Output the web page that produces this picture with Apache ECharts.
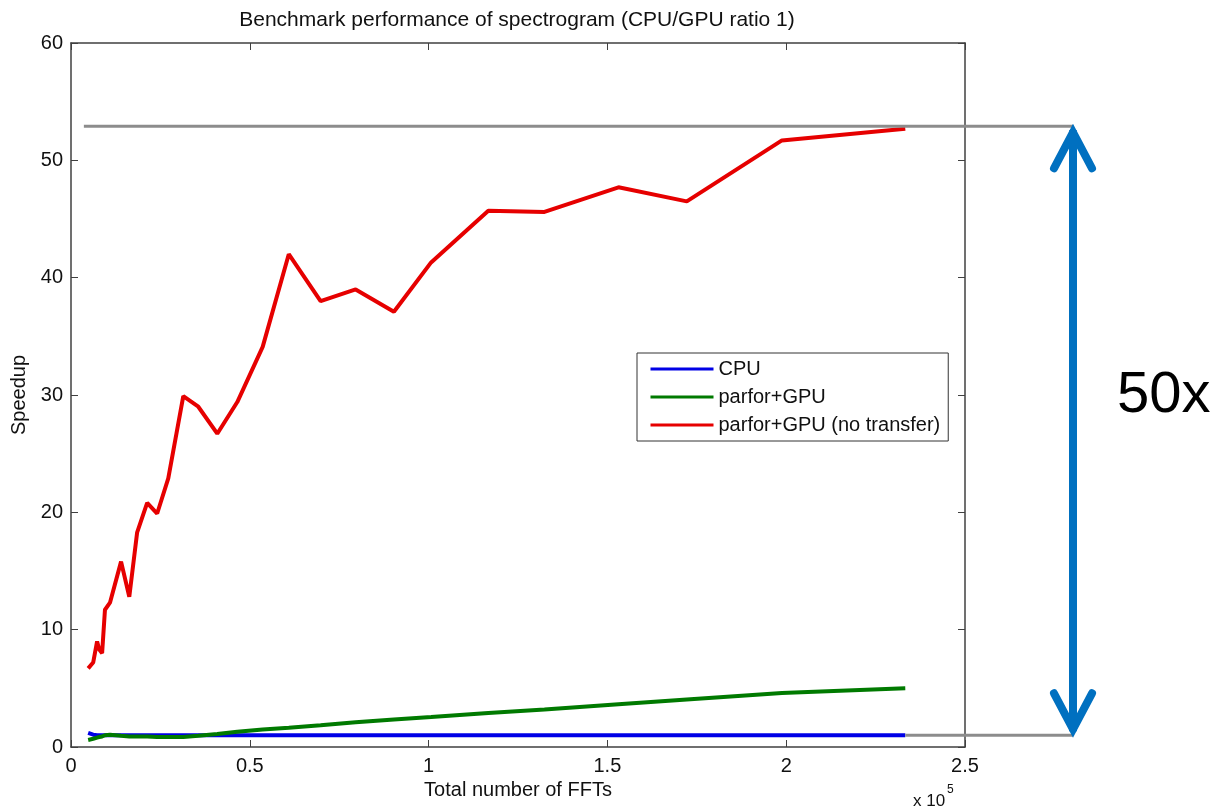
<!DOCTYPE html>
<html>
<head>
<meta charset="utf-8">
<script src="https://cdn.jsdelivr.net/npm/echarts@6/dist/echarts.min.js"></script>
<style>
  html, body { margin: 0; padding: 0; background: #fff; }
  #chart { width: 1217px; height: 809px; }
</style>
</head>
<body>
<div id="chart"></div>
<script>
// number of FFTs (x axis)
var fftCounts = [4800, 6200, 7300, 7900, 8700, 9500, 10900, 14000, 16300, 18500, 21300, 24100,
  27200, 31400, 35600, 40900, 46500, 53600, 60900, 69800, 79600, 90300, 100700, 116700,
  132400, 153100, 172200, 198800, 233300];
// speedup of each variant
var cpuSpeedup = [1.2, 1.05, 1.0, 1.0, 1.0, 1.0, 1.0, 1.0, 1.0, 1.0, 1.0, 1.0,
  1.0, 1.0, 1.0, 1.0, 1.0, 1.0, 1.0, 1.0, 1.0, 1.0, 1.0, 1.0,
  1.0, 1.0, 1.0, 1.0, 1.0];
var gpuSpeedup = [0.6, 0.7, 0.8, 0.85, 0.9, 1.0, 1.05, 0.95, 0.9, 0.9, 0.9, 0.85,
  0.85, 0.85, 0.95, 1.1, 1.3, 1.5, 1.65, 1.85, 2.1, 2.35, 2.55, 2.9,
  3.2, 3.65, 4.05, 4.6, 5.0];
var gpuNoTransferSpeedup = [6.7, 7.2, 9.0, 8.3, 8.0, 11.7, 12.3, 15.8, 12.8, 18.3, 20.8, 19.9,
  22.9, 29.9, 29.0, 26.7, 29.4, 34.1, 42.0, 38.0, 39.0, 37.1, 41.3, 45.7,
  45.6, 47.7, 46.5, 51.7, 52.7];
var seriesNames = ['CPU', 'parfor+GPU', 'parfor+GPU (no transfer)'];
// annotation: speedup gap marked on the right
var gapTop = 52.9;
var gapBottom = 1.0;
var gapLabel = '50x';

var FONT = '"Liberation Sans", Arial, sans-serif';
var axisColor = '#404040';

function pairs(values) {
  return fftCounts.map(function (x, i) { return [x, values[i]]; });
}

var myChart = echarts.init(document.getElementById('chart'));

var option = {
  animation: false,
  backgroundColor: '#fff',
  textStyle: { fontFamily: FONT },
  title: {
    text: 'Benchmark performance of spectrogram (CPU/GPU ratio 1)',
    left: 517,
    textAlign: 'center',
    top: 10,
    padding: 0,
    textStyle: { fontSize: 21, fontWeight: 'normal', color: '#111', fontFamily: FONT }
  },
  grid: { left: 71, right: 252, top: 43, bottom: 62, containLabel: false },
  legend: {
    orient: 'vertical',
    left: 637,
    top: 353,
    data: seriesNames,
    backgroundColor: '#fff',
    borderColor: '#333',
    borderWidth: 1,
    borderRadius: 0,
    padding: [6, 8, 6, 12],
    itemWidth: 63,
    itemHeight: 20,
    itemGap: 8,
    itemStyle: { opacity: 0 },
    lineStyle: { width: 3 },
    textStyle: { fontSize: 20, lineHeight: 20, color: '#111', fontFamily: FONT }
  },
  xAxis: [
    {
      type: 'value',
      min: 0,
      max: 250000,
      interval: 50000,
      name: 'Total number of FFTs',
      nameLocation: 'middle',
      nameGap: 32,
      nameTextStyle: { fontSize: 20, color: '#111', fontFamily: FONT },
      axisLine: { lineStyle: { color: axisColor, width: 1.5 } },
      axisTick: { inside: true, length: 7, lineStyle: { color: axisColor } },
      axisLabel: {
        margin: 9, fontSize: 20, color: '#111', fontFamily: FONT,
        formatter: function (v) { return String(v / 100000); }
      },
      splitLine: { show: false }
    },
    {
      type: 'value',
      position: 'top',
      min: 0,
      max: 250000,
      interval: 50000,
      axisLine: { show: true, onZero: false, lineStyle: { color: axisColor, width: 1.5 } },
      axisTick: { inside: true, length: 7, lineStyle: { color: axisColor } },
      axisLabel: { show: false },
      splitLine: { show: false }
    }
  ],
  yAxis: [
    {
      type: 'value',
      min: 0,
      max: 60,
      interval: 10,
      name: 'Speedup',
      nameLocation: 'middle',
      nameGap: 39,
      nameRotate: 90,
      nameTextStyle: { fontSize: 20, color: '#111', fontFamily: FONT },
      axisLine: { show: true, lineStyle: { color: axisColor, width: 1.5 } },
      axisTick: { show: true, inside: true, length: 7, lineStyle: { color: axisColor } },
      axisLabel: { margin: 8, fontSize: 20, color: '#111', fontFamily: FONT },
      splitLine: { show: false }
    },
    {
      type: 'value',
      position: 'right',
      min: 0,
      max: 60,
      interval: 10,
      axisLine: { show: true, onZero: false, lineStyle: { color: axisColor, width: 1.5 } },
      axisTick: { show: true, inside: true, length: 7, lineStyle: { color: axisColor } },
      axisLabel: { show: false },
      splitLine: { show: false }
    }
  ],
  series: [
    {
      name: seriesNames[0], type: 'line', data: pairs(cpuSpeedup),
      symbol: 'none', color: '#0000e6', lineStyle: { width: 4, color: '#0000e6' }
    },
    {
      name: seriesNames[1], type: 'line', data: pairs(gpuSpeedup),
      symbol: 'none', color: '#007a00', lineStyle: { width: 4, color: '#007a00' }
    },
    {
      name: seriesNames[2], type: 'line', data: pairs(gpuNoTransferSpeedup),
      symbol: 'none', color: '#e60000', lineStyle: { width: 4, color: '#e60000' }
    }
  ]
};
myChart.setOption(option);

// annotation lines and arrow outside the plot
var yTop = myChart.convertToPixel({ yAxisIndex: 0 }, gapTop);
var yBot = myChart.convertToPixel({ yAxisIndex: 0 }, gapBottom);
var xStart = myChart.convertToPixel({ xAxisIndex: 0 }, 3600);
var xLast = myChart.convertToPixel({ xAxisIndex: 0 }, fftCounts[fftCounts.length - 1]);
var arrowX = 1073;
var blue = '#0070c0';

myChart.setOption({
  graphic: [
    { type: 'line', z: 100, shape: { x1: xStart, y1: yTop, x2: arrowX, y2: yTop },
      style: { stroke: '#8c8c8c', lineWidth: 3 } },
    { type: 'line', z: 100, shape: { x1: xLast, y1: yBot, x2: arrowX, y2: yBot },
      style: { stroke: '#8c8c8c', lineWidth: 3 } },
    { type: 'line', z: 101, shape: { x1: arrowX, y1: yTop + 4, x2: arrowX, y2: yBot - 4 },
      style: { stroke: blue, lineWidth: 8 } },
    { type: 'polyline', z: 101,
      shape: { points: [[arrowX - 19, yTop + 42], [arrowX, yTop + 6], [arrowX + 19, yTop + 42]] },
      style: { stroke: blue, lineWidth: 8, lineCap: 'round', lineJoin: 'miter', fill: null } },
    { type: 'polyline', z: 101,
      shape: { points: [[arrowX - 19, yBot - 42], [arrowX, yBot - 6], [arrowX + 19, yBot - 42]] },
      style: { stroke: blue, lineWidth: 8, lineCap: 'round', lineJoin: 'miter', fill: null } },
    { type: 'text', z: 101, x: 1117, y: 396,
      style: { text: gapLabel, fontSize: 58, fontFamily: FONT, fill: '#000', verticalAlign: 'middle' } },
    { type: 'text', z: 101, x: 913, y: 801,
      style: { text: 'x 10', fontSize: 17, fontFamily: FONT, fill: '#111', verticalAlign: 'middle' } },
    { type: 'text', z: 101, x: 947, y: 790,
      style: { text: '5', fontSize: 12, fontFamily: FONT, fill: '#111', verticalAlign: 'middle' } }
  ]
});
</script>
</body>
</html>
